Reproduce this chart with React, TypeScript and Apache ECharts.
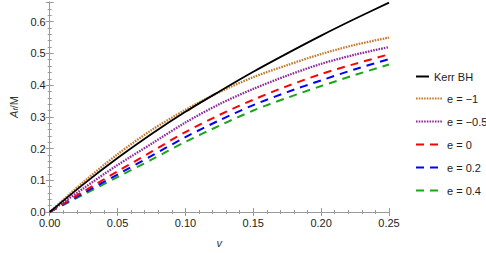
import React, { useEffect, useRef } from "react";
import * as echarts from "echarts";

const vValues = [0, 0.025, 0.05, 0.075, 0.1, 0.125, 0.15, 0.175, 0.2, 0.225, 0.25];
const kerr = [0, 0.088, 0.17, 0.246, 0.316, 0.38, 0.442, 0.5, 0.556, 0.609, 0.66];
const eMinus1 = [0, 0.095, 0.182, 0.258, 0.322, 0.378, 0.425, 0.463, 0.498, 0.527, 0.55];
const eMinus05 = [0, 0.075, 0.148, 0.215, 0.282, 0.34, 0.388, 0.43, 0.467, 0.496, 0.52];
const e0 = [0, 0.065, 0.128, 0.19, 0.252, 0.306, 0.354, 0.397, 0.435, 0.467, 0.497];
const e02 = [0, 0.06, 0.118, 0.177, 0.236, 0.289, 0.337, 0.378, 0.415, 0.45, 0.482];
const e04 = [0, 0.055, 0.11, 0.165, 0.221, 0.272, 0.32, 0.36, 0.397, 0.432, 0.465];

const seriesNames = ["Kerr BH", "e = \u22121", "e = \u22120.5", "e = 0", "e = 0.2", "e = 0.4"];
const seriesData = [kerr, eMinus1, eMinus05, e0, e02, e04];
const colors = ["#000000", "#c47a2c", "#8e2a9c", "#ff0000", "#0000ff", "#1aa51a"];
const lineTypes: any[] = ["solid", [1.6, 1.1], [1.6, 1.1], [8, 6], [8, 6], [8, 6]];

export default function App() {
  const ref = useRef<HTMLDivElement>(null);
  useEffect(() => {
    if (!ref.current) return;
    const chart = echarts.init(ref.current, undefined, { renderer: "svg" });
    const font = "Liberation Sans, Arial, sans-serif";
    const axisLine = { show: true, lineStyle: { color: "#9a9a9a", width: 1 } };
    const tick = { show: true, inside: true, length: 4, lineStyle: { color: "#9a9a9a" } };
    const minor = { show: true, splitNumber: 5, length: 2, lineStyle: { color: "#9a9a9a" } };
    chart.setOption({
      animation: false,
      backgroundColor: "#ffffff",
      grid: { left: 34, right: 97, top: 2, bottom: 34, containLabel: false },
      xAxis: [
        {
          type: "value", min: 0, max: 0.25, interval: 0.05,
          axisLine, axisTick: tick, minorTick: minor, splitLine: { show: false },
          axisLabel: { color: "#222", fontSize: 11, fontFamily: font, margin: 5, formatter: (v: number) => v.toFixed(2) },
          name: "v", nameLocation: "middle", nameGap: 25,
          nameTextStyle: { fontStyle: "italic", color: "#333", fontSize: 11, fontFamily: font },
        },
        {
          type: "value", min: 0, max: 0.25, interval: 0.05, position: "top",
          axisLine, axisTick: tick, minorTick: minor, splitLine: { show: false }, axisLabel: { show: false },
        },
      ],
      yAxis: [
        {
          type: "value", min: 0, max: 0.662, interval: 0.1,
          axisLine, axisTick: tick, minorTick: minor, splitLine: { show: false },
          axisLabel: { color: "#222", fontSize: 11, fontFamily: font, margin: 4, showMaxLabel: false, formatter: (v: number) => v.toFixed(1) },
          name: "{i|A}{s|f}{n|/M}", nameLocation: "middle", nameGap: 24, nameRotate: 90,
          nameTextStyle: {
            rich: {
              i: { fontStyle: "italic", fontSize: 11, fontFamily: font, color: "#333" },
              s: { fontStyle: "italic", fontSize: 8, fontFamily: font, color: "#333", verticalAlign: "bottom", padding: [4, 0, 0, 0] },
              n: { fontSize: 11, fontFamily: font, color: "#333" },
            },
          },
        },
        {
          type: "value", min: 0, max: 0.662, interval: 0.1, position: "right",
          axisLine, axisTick: tick, minorTick: minor, splitLine: { show: false }, axisLabel: { show: false },
        },
      ],
      legend: [
        {
          data: [seriesNames[0]], orient: "vertical", left: 410, top: 66,
          itemWidth: 13, itemHeight: 10, itemGap: 12,
          itemStyle: { opacity: 0 },
          textStyle: { fontSize: 11, fontFamily: font, color: "#222" },
        },
        {
          data: seriesNames.slice(1), orient: "vertical", left: 410, top: 88,
          itemWidth: 26, itemHeight: 10, itemGap: 12,
          itemStyle: { opacity: 0 },
          textStyle: { fontSize: 11, fontFamily: font, color: "#222" },
        },
      ],
      series: seriesData.map((d, i) => ({
        name: seriesNames[i],
        type: "line",
        xAxisIndex: 0,
        yAxisIndex: 0,
        data: d.map((a, j) => [vValues[j], a]),
        smooth: 0.3,
        symbol: "none",
        showSymbol: false,
        z: 10 - i,
        lineStyle: { color: colors[i], width: i === 0 ? 1.8 : i < 3 ? 2.3 : 2, type: lineTypes[i] },
        itemStyle: { color: colors[i] },
      })),
    });
    return () => chart.dispose();
  }, []);
  return <div ref={ref} style={{ position: "fixed", left: 0, top: 0, width: 486, height: 253 }} />;
}
